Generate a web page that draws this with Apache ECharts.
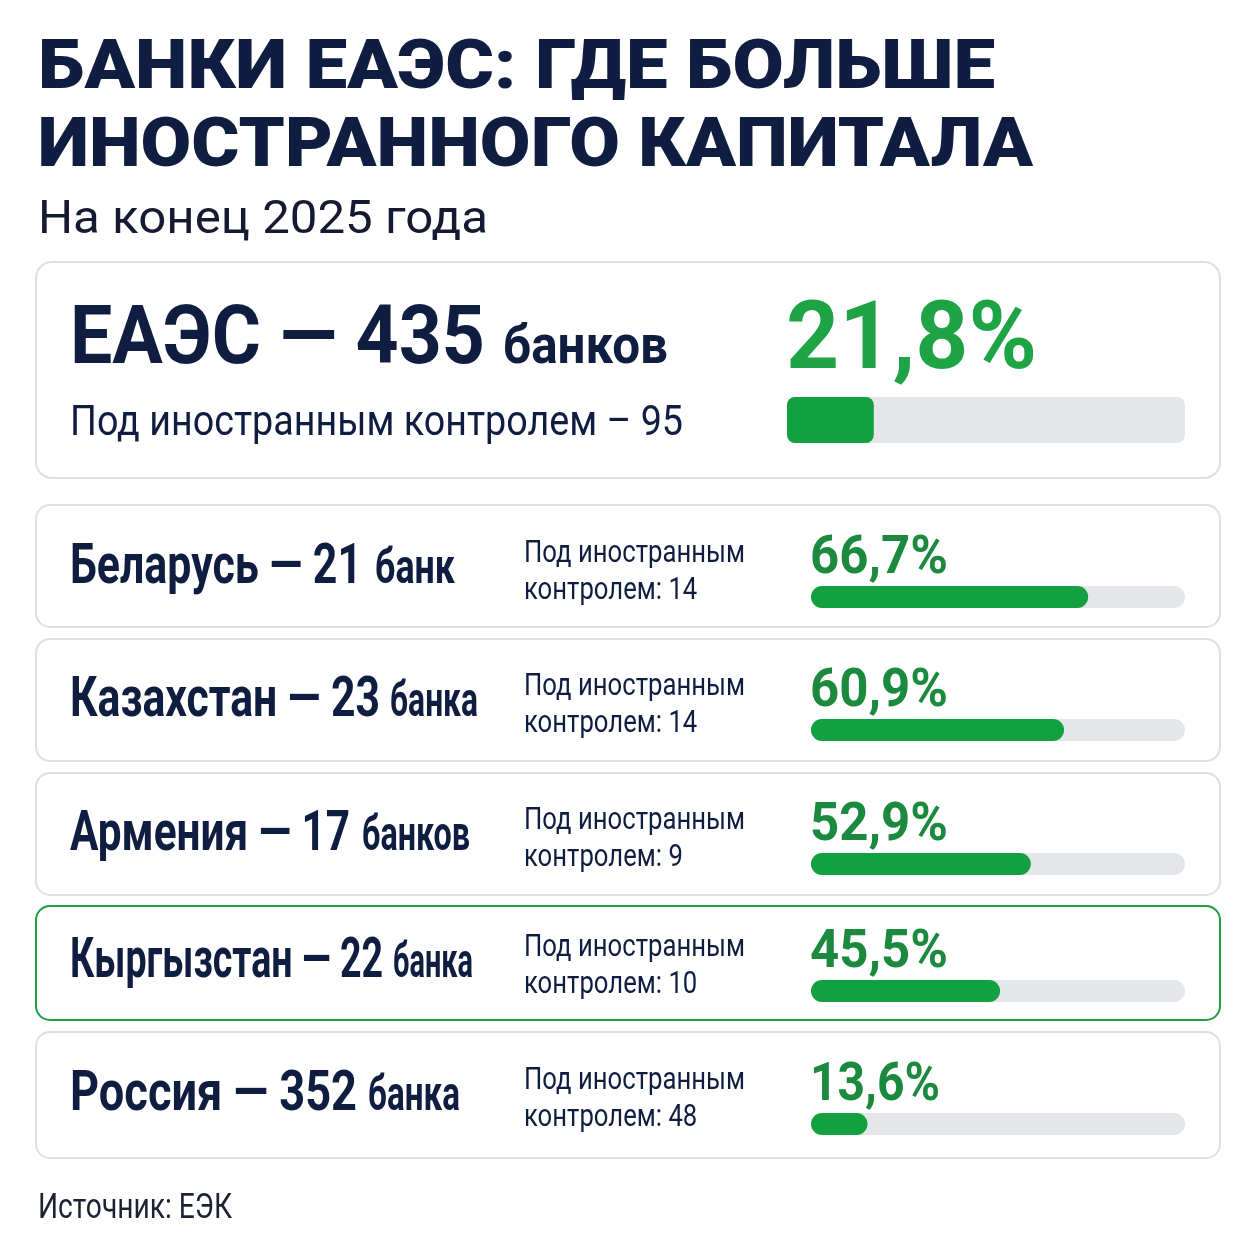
<!DOCTYPE html>
<html><head><meta charset="utf-8">
<script src="https://cdn.jsdelivr.net/npm/echarts@6/dist/echarts.min.js"></script>
<style>html,body{margin:0;padding:0;background:#fff}#c{width:1254px;height:1254px}</style>
</head><body><div id="c"></div>
<script>
// ---- data ----
const titleLines = ['БАНКИ ЕАЭС: ГДЕ БОЛЬШЕ', 'ИНОСТРАННОГО КАПИТАЛА'];
const subtitle = 'На конец 2025 года';
const source = 'Источник: ЕЭК';
const totalName = 'ЕАЭС';
const totalBanks = 435;
const totalWord = 'банков';
const totalForeign = 95;
const totalShare = 21.8;
const countries = ['Беларусь', 'Казахстан', 'Армения', 'Кыргызстан', 'Россия'];
const banks = [21, 23, 17, 22, 352];
const bankWords = ['банк', 'банка', 'банков', 'банка', 'банка'];
const foreign = [14, 14, 9, 10, 48];
const shares = [66.7, 60.9, 52.9, 45.5, 13.6];
const highlighted = 'Кыргызстан';

// ---- layout & style ----
const NAVY = '#0f1d40', GREEN_T = '#1b8a3e', GREEN_TOP = '#1fa445', GREEN_B = '#13a040', TRACK = '#e5e6ea', BORDER = '#dcdfe4';
const FONT = 'Roboto, "Liberation Sans", sans-serif';
const cardTops = [505, 639, 773, 906, 1032];
const cardHeights = [122, 122, 122, 114, 126];
const barTops = [586, 719, 853, 980, 1113];
const labelWidths = [292, 310, 280, 313, 287];   // drawn width of "Name — N"
const wordGaps = [13, 10, 12, 10, 11];
const wordWidths = [80, 88, 108, 80, 92];        // drawn width of the small word
const pctWidths = [138, 138, 138, 138, 130];
const fmt = v => v.toFixed(1).replace('.', ',') + '%';

const cv = document.createElement('canvas').getContext('2d');
function fontStr(w, s) { return w + ' ' + s + 'px ' + FONT; }
function measure(str, w, s) { cv.font = fontStr(w, s); return cv.measureText(str).width; }
function midOff(w, s) { cv.font = fontStr(w, s); cv.textBaseline = 'middle'; return cv.measureText('H').actualBoundingBoxDescent; }
function fitScale(str, w, s, target) { return target / measure(str, w, s); }
// text placed by alphabetic baseline, horizontally scaled
function T(x, base, str, w, s, fill, sx) {
  return {type: 'text', x: x, y: base - midOff(w, s), scaleX: sx, scaleY: 1,
    style: {text: str, font: fontStr(w, s), fill: fill, textVerticalAlign: 'middle', textAlign: 'left'}};
}
const graphic = [];
// title
graphic.push(T(38, 88, titleLines[0], 900, 68, NAVY, fitScale(titleLines[0], 900, 68, 957)));
graphic.push(T(38, 166, titleLines[1], 900, 68, NAVY, fitScale(titleLines[1], 900, 68, 995)));
graphic.push(T(38, 233, subtitle, 400, 46, '#141a30', fitScale(subtitle, 400, 46, 450)));

// total card
graphic.push({type: 'rect', shape: {x: 36, y: 262, width: 1184, height: 216, r: 16}, style: {fill: '#fff', stroke: BORDER, lineWidth: 2}, z: -1});
const totalLabel = totalName + ' — ' + totalBanks;
graphic.push(T(70, 363, totalLabel, 700, 82, NAVY, fitScale(totalLabel, 700, 82, 415)));
graphic.push(T(70 + 415 + 18, 363, totalWord, 700, 53, NAVY, fitScale(totalWord, 700, 53, 165)));
const fLine = 'Под иностранным контролем – ' + totalForeign;
graphic.push(T(70, 435, fLine, 400, 42, NAVY, fitScale(fLine, 400, 42, 613)));
graphic.push(T(786, 368, fmt(totalShare), 700, 95, GREEN_TOP, fitScale(fmt(totalShare), 700, 95, 251)));

const sMid = fitScale('Под иностранным', 400, 31, 221);

countries.forEach((c, i) => {
  const t = cardTops[i], b = barTops[i];
  const hl = c === highlighted;
  graphic.push({type: 'rect', shape: {x: 36, y: t, width: 1184, height: cardHeights[i], r: 14},
    style: {fill: '#fff', stroke: hl ? '#1e9e45' : BORDER, lineWidth: 2}, z: -1});
  const lbl = c + ' — ' + banks[i];
  graphic.push(T(70, b - 3, lbl, 700, 56, NAVY, fitScale(lbl, 700, 56, labelWidths[i])));
  graphic.push(T(70 + labelWidths[i] + wordGaps[i], b - 3, bankWords[i], 700, 49, NAVY,
    fitScale(bankWords[i], 700, 49, wordWidths[i])));
  graphic.push(T(524, b - 24, 'Под иностранным', 400, 31, NAVY, sMid));
  graphic.push(T(524, b + 13, 'контролем: ' + foreign[i], 400, 31, NAVY, sMid));
  graphic.push(T(810, b - 13, fmt(shares[i]), 700, 53, GREEN_T, fitScale(fmt(shares[i]), 700, 53, pctWidths[i])));
});
graphic.push(T(38, 1218, source, 400, 35, '#1c2233', fitScale(source, 400, 35, 194)));

// grids & series (progress bars)
const grids = [{left: 787, top: 397, width: 398, height: 46}];
const xAxes = [{gridIndex: 0, type: 'value', min: 0, max: 100, show: false}];
const yAxes = [{gridIndex: 0, type: 'category', data: [totalName], show: false}];
const series = [{type: 'bar', xAxisIndex: 0, yAxisIndex: 0, data: [totalShare], barWidth: 46,
  itemStyle: {color: GREEN_B, borderRadius: 8}, showBackground: true,
  backgroundStyle: {color: TRACK, borderRadius: 8}, silent: true}];
countries.forEach((c, i) => {
  const g = i + 1;
  grids.push({left: 811, top: barTops[i], width: 374, height: 22});
  xAxes.push({gridIndex: g, type: 'value', min: 0, max: 90, show: false});
  yAxes.push({gridIndex: g, type: 'category', data: [c], show: false});
  series.push({type: 'bar', xAxisIndex: g, yAxisIndex: g, data: [shares[i]], barWidth: 22,
    itemStyle: {color: GREEN_B, borderRadius: 11}, showBackground: true,
    backgroundStyle: {color: TRACK, borderRadius: 11}, silent: true});
});

const chart = echarts.init(document.getElementById('c'), null, {renderer: 'canvas'});
chart.setOption({backgroundColor: '#fff', animation: false, grid: grids, xAxis: xAxes, yAxis: yAxes, series: series, graphic: graphic});
</script></body></html>
